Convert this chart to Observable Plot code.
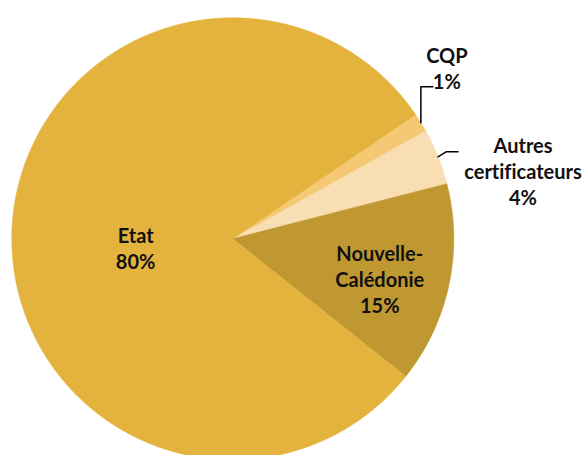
<!DOCTYPE html>
<html><head><meta charset="utf-8">
<script src="https://cdn.jsdelivr.net/npm/d3@7"></script>
<script src="https://cdn.jsdelivr.net/npm/@observablehq/plot@0.6"></script>
<style>body{margin:0;background:#fff;} svg{display:block;} svg text{font-variant-ligatures:none;}</style>
</head><body><div id="chart"></div>
<script>
// Data (clockwise order, starting at the CQP slice)
const categories = ["CQP", "Autres\ncertificateurs", "Nouvelle-\nCalédonie", "Etat"];
const shares = [1.4, 4.1, 14.7, 79.8];
const colors = ["#F5C873", "#F8DEB2", "#C09832", "#E4B33E"];
const outside = [true, true, false, false];

// Layout
const W = 587, H = 455, R = 221, CX = 232.3, CY = 238.3;
const START = 55.8 * Math.PI / 180;
const u = 1 / R; // data units per pixel

const pie = d3.pie().sort(null).value(d => d.v).startAngle(START).endAngle(START + 2 * Math.PI);
const arcs = pie(categories.map((c, i) => ({c, v: shares[i], col: colors[i], out: outside[i]})));

const pt = (a, r) => [r * Math.sin(a), r * Math.cos(a)];

// slice polygons
const poly = [];
arcs.forEach(s => {
  const n = Math.max(2, Math.ceil((s.endAngle - s.startAngle) / 0.005));
  poly.push({c: s.data.c, x: 0, y: 0});
  for (let k = 0; k <= n; k++) {
    const a = s.startAngle + (s.endAngle - s.startAngle) * k / n;
    const [x, y] = pt(a, 1);
    poly.push({c: s.data.c, x, y});
  }
  poly.push({c: s.data.c, x: 0, y: 0});
});

// leader lines + label anchors
const leaderElbow = {"CQP": [[0, 36], [12, 0]], "Autres\ncertificateurs": [[8, 5], [12, 0]]};
const leaderText = {"CQP": [14, -18.9], "Autres\ncertificateurs": [65, 18.6]};
const insideLabel = {"Nouvelle-\nCalédonie": [0.68, 8.1], "Etat": [0.44, 13.0]};
const leaders = [], labels = [];
arcs.forEach(s => {
  const mid = (s.startAngle + s.endAngle) / 2;
  const text = s.data.c + "\n" + Math.round(s.data.v) + "%";
  if (s.data.out) {
    let [x, y] = pt(mid, 1);
    leaders.push({c: s.data.c, x, y});
    for (const [dx, dy] of leaderElbow[s.data.c]) {
      x += dx * u; y += dy * u;
      leaders.push({c: s.data.c, x, y});
    }
    const [tdx, tdy] = leaderText[s.data.c];
    labels.push({text, x, y, dx: tdx, dy: tdy});
  } else {
    const [r, tdy] = insideLabel[s.data.c];
    const [x, y] = pt(mid, r);
    labels.push({text, x, y, dx: 0, dy: tdy});
  }
});

const chart = Plot.plot({
  width: W, height: H, margin: 0,
  style: {background: "#fff", fontFamily: "Lato, 'Open Sans', sans-serif"},
  x: {domain: [-1, 1], range: [CX - R, CX + R], axis: null},
  y: {domain: [-1, 1], range: [CY + R, CY - R], axis: null},
  color: {domain: categories, range: colors},
  marks: [
    Plot.line(poly, {x: "x", y: "y", z: "c", fill: "c", stroke: "c", strokeWidth: 0.6}),
    Plot.line(leaders, {x: "x", y: "y", z: "c", stroke: "#000", strokeWidth: 1.5}),
    ...labels.map(l => Plot.text([l], {x: "x", y: "y", text: "text", dx: l.dx, dy: l.dy,
      fontSize: 20, fontWeight: "bold", fill: "#111", lineHeight: 1.3, textAnchor: "middle", lineAnchor: "middle"}))
  ]
});
document.getElementById("chart").appendChild(chart);
</script>
</body></html>
